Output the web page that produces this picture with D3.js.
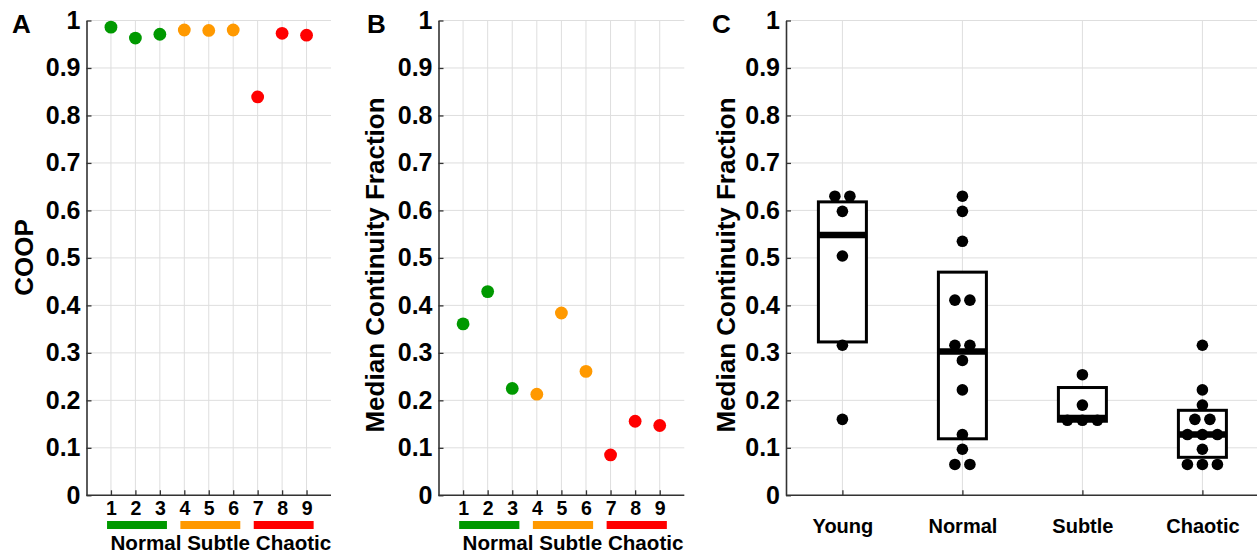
<!DOCTYPE html>
<html>
<head>
<meta charset="utf-8">
<script src="https://cdn.jsdelivr.net/npm/d3@7"></script>
<style>
  html, body { margin: 0; padding: 0; background: #fff; }
  svg { display: block; font-family: "Liberation Sans", Arial, sans-serif; font-weight: bold; }
</style>
</head>
<body>
<svg id="fig" width="1257" height="556"></svg>
<script>
// Patient-level measurements (panels A and B)
const patients = [1, 2, 3, 4, 5, 6, 7, 8, 9];
const patientGroup = ["Normal", "Normal", "Normal", "Subtle", "Subtle", "Subtle", "Chaotic", "Chaotic", "Chaotic"];
const coopValues = [0.986, 0.963, 0.971, 0.980, 0.979, 0.980, 0.839, 0.973, 0.969];
const medianContinuity = [0.361, 0.429, 0.225, 0.213, 0.384, 0.261, 0.085, 0.156, 0.147];

// Group legend under panels A and B
const groupNames = ["Normal", "Subtle", "Chaotic"];
const groupColors = ["#009900", "#ff9900", "#ff0000"];
const groupFirst = [1, 4, 7];
const groupLast = [3, 6, 9];

// Cohort-level distributions (panel C)
const cohortNames = ["Young", "Normal", "Subtle", "Chaotic"];
const youngValues = [0.630, 0.630, 0.598, 0.504, 0.316, 0.160];
const normalValues = [0.630, 0.598, 0.535, 0.411, 0.411, 0.316, 0.316, 0.284, 0.222, 0.128, 0.097, 0.065, 0.065];
const subtleValues = [0.254, 0.190, 0.158, 0.158, 0.158];
const chaoticValues = [0.316, 0.222, 0.190, 0.160, 0.160, 0.128, 0.128, 0.128, 0.097, 0.065, 0.065, 0.065];
const boxQ1 = [0.323, 0.119, 0.156, 0.080];
const boxMedian = [0.548, 0.303, 0.163, 0.128];
const boxQ3 = [0.618, 0.470, 0.227, 0.179];

// Shared y tick values
const yTicks = [0, 0.1, 0.2, 0.3, 0.4, 0.5, 0.6, 0.7, 0.8, 0.9, 1];

const svg = d3.select("#fig");
const TOP = 20.5, BOTTOM = 495.3;
const GRID = "#dedede", AXIS = "#333";
const FONT = "Liberation Sans, Arial, sans-serif";

function yScale() {
  return d3.scaleLinear().domain([0, 1]).range([BOTTOM, TOP]);
}

function drawFrame(g, x, y, xGridVals, left, right) {
  // grid
  g.append("g").selectAll("line").data(yTicks).join("line")
    .attr("x1", left).attr("x2", right)
    .attr("y1", d => y(d)).attr("y2", d => y(d))
    .attr("stroke", GRID).attr("stroke-width", 1);
  g.append("g").selectAll("line").data(xGridVals).join("line")
    .attr("x1", d => x(d)).attr("x2", d => x(d))
    .attr("y1", TOP).attr("y2", BOTTOM)
    .attr("stroke", GRID).attr("stroke-width", 1);
  // y axis
  const ya = g.append("g").attr("transform", `translate(${left},0)`)
    .call(d3.axisLeft(y).tickValues(yTicks).tickFormat(d3.format("~g"))
      .tickSizeInner(-5).tickSizeOuter(0).tickPadding(6));
  ya.select(".domain").attr("stroke", AXIS).attr("stroke-width", 1.6);
  ya.selectAll(".tick line").attr("stroke", AXIS).attr("stroke-width", 1.3);
  ya.selectAll(".tick text").attr("font-size", 25).attr("font-weight", "bold")
    .attr("font-family", FONT).attr("fill", "#000");
  return ya;
}

function patientPanel(left, right, values, yLabel, yLabelX, yLabelY, letter, letterX) {
  const g = svg.append("g");
  const x = d3.scaleLinear().domain([0, 10]).range([left, right]);
  const y = yScale();
  drawFrame(g, x, y, patients, left, right);

  const xa = g.append("g").attr("transform", `translate(0,${BOTTOM})`)
    .call(d3.axisBottom(x).tickValues(patients).tickFormat(d3.format("d"))
      .tickSizeInner(-5).tickSizeOuter(0).tickPadding(5.5));
  xa.select(".domain").attr("stroke", AXIS).attr("stroke-width", 1.6)
    .attr("d", `M${left},0H${right}`);
  xa.selectAll(".tick line").attr("stroke", AXIS).attr("stroke-width", 1.3);
  xa.selectAll(".tick text").attr("font-size", 19.5).attr("font-weight", "bold")
    .attr("font-family", FONT).attr("fill", "#000");

  // points
  g.append("g").selectAll("circle").data(patients).join("circle")
    .attr("cx", d => x(d)).attr("cy", (d, i) => y(values[i]))
    .attr("r", 6.4)
    .attr("fill", (d, i) => groupColors[groupNames.indexOf(patientGroup[i])]);

  // group bars
  g.append("g").selectAll("rect").data(groupNames).join("rect")
    .attr("x", (d, i) => x(groupFirst[i] - 0.16))
    .attr("width", (d, i) => x(groupLast[i] + 0.29) - x(groupFirst[i] - 0.16))
    .attr("y", 521).attr("height", 8)
    .attr("fill", (d, i) => groupColors[i]);
  g.append("text").attr("x", x(0.98)).attr("y", 550)
    .attr("font-size", 20.6).attr("fill", "#000")
    .attr("xml:space", "preserve")
    .text(groupNames.join(" "));

  g.append("text")
    .attr("transform", `translate(${yLabelX},${yLabelY}) rotate(-90)`)
    .attr("text-anchor", "middle").attr("font-size", 26).attr("fill", "#000")
    .text(yLabel);
  g.append("text").attr("x", letterX).attr("y", 32.5)
    .attr("font-size", 26).attr("fill", "#000").text(letter);
}

patientPanel(86.5, 331, coopValues, "COOP", 33, 257.5, "A", 12);
patientPanel(438.5, 684.3, medianContinuity, "Median Continuity Fraction", 383.5, 265, "B", 367);

// Panel C: box plots with dot swarms
(function () {
  const left = 786, right = 1257;
  const g = svg.append("g");
  const pos = cohortNames.map((d, i) => i + 1);
  const x = d3.scaleLinear().domain([0.53, 4.455]).range([left, right]);
  const y = yScale();
  drawFrame(g, x, y, pos, left, right);

  const xa = g.append("g").attr("transform", `translate(0,${BOTTOM})`)
    .call(d3.axisBottom(x).tickValues(pos).tickFormat((d, i) => cohortNames[i])
      .tickSizeInner(-5).tickSizeOuter(0).tickPadding(24));
  xa.select(".domain").attr("stroke", AXIS).attr("stroke-width", 1.6)
    .attr("d", `M${left},0H${right}`);
  xa.selectAll(".tick line").attr("stroke", AXIS).attr("stroke-width", 1.3);
  xa.selectAll(".tick text").attr("font-size", 20).attr("font-weight", "bold")
    .attr("font-family", FONT).attr("fill", "#000");

  const boxHalf = 0.2;
  const boxes = g.append("g").selectAll("g").data(cohortNames).join("g");
  boxes.append("rect")
    .attr("x", (d, i) => x(pos[i] - boxHalf))
    .attr("width", (d, i) => x(pos[i] + boxHalf) - x(pos[i] - boxHalf))
    .attr("y", (d, i) => y(boxQ3[i]))
    .attr("height", (d, i) => y(boxQ1[i]) - y(boxQ3[i]))
    .attr("fill", "#fff").attr("stroke", "#000").attr("stroke-width", 3);
  boxes.append("line")
    .attr("x1", (d, i) => x(pos[i] - boxHalf)).attr("x2", (d, i) => x(pos[i] + boxHalf))
    .attr("y1", (d, i) => y(boxMedian[i])).attr("y2", (d, i) => y(boxMedian[i]))
    .attr("stroke", "#000").attr("stroke-width", 6.5);

  // spread tied values side by side
  const cohortValues = [youngValues, normalValues, subtleValues, chaoticValues];
  const dotStep = 15;
  const dots = [];
  cohortValues.forEach((vals, ci) => {
    const groups = d3.group(vals, v => v);
    groups.forEach((arr, v) => {
      arr.forEach((_, k) => {
        dots.push({ cx: x(pos[ci]) + (k - (arr.length - 1) / 2) * dotStep, v });
      });
    });
  });
  g.append("g").selectAll("circle").data(dots).join("circle")
    .attr("cx", d => d.cx).attr("cy", d => y(d.v)).attr("r", 5.8).attr("fill", "#000");

  g.append("text")
    .attr("transform", `translate(735,265) rotate(-90)`)
    .attr("text-anchor", "middle").attr("font-size", 26).attr("fill", "#000")
    .text("Median Continuity Fraction");
  g.append("text").attr("x", 712).attr("y", 32.5)
    .attr("font-size", 26).attr("fill", "#000").text("C");
})();
</script>
</body>
</html>
